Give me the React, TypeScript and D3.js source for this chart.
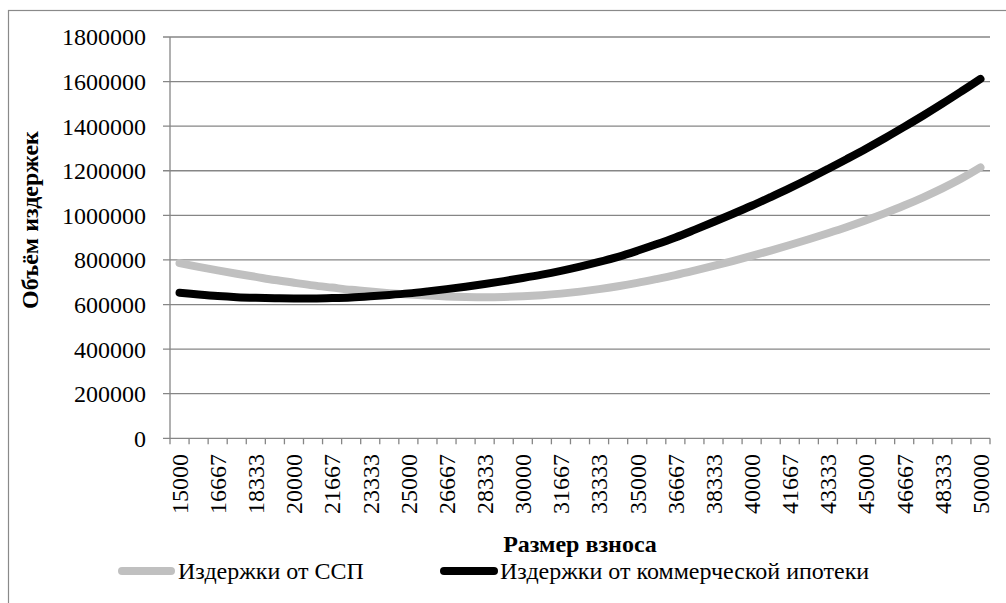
import React from "react";
import * as d3 from "d3";

const categories: string[] = [
  "15000", "15833", "16667", "17500", "18333", "19167", "20000", "20833", "21667", "22500",
  "23333", "24167", "25000", "25833", "26667", "27500", "28333", "29167", "30000", "30833",
  "31667", "32500", "33333", "34167", "35000", "35833", "36667", "37500", "38333", "39167",
  "40000", "40833", "41667", "42500", "43333", "44167", "45000", "45833", "46667", "47500",
  "48333", "49167", "50000",
];

// Издержки от ССП
const sspValues: number[] = [
  786000, 769000, 753000, 738000, 724000, 710000, 698000, 686000, 676000, 666000,
  658000, 651000, 645000, 640000, 636000, 634000, 633000, 634000, 637000, 642000,
  649000, 658000, 669000, 682000, 697000, 714000, 732000, 752000, 773000, 795000,
  818000, 842000, 867000, 893000, 920000, 948000, 978000, 1010000, 1044000, 1081000,
  1121000, 1165000, 1215000,
];

// Издержки от коммерческой ипотеки
const mortgageValues: number[] = [
  653000, 645000, 638000, 633000, 630000, 628000, 627000, 627000, 629000, 632000,
  637000, 643000, 650000, 659000, 669000, 680000, 692000, 705000, 719000, 734000,
  751000, 770000, 791000, 814000, 841000, 870000, 901000, 935000, 970000, 1006000,
  1043000, 1082000, 1122000, 1164000, 1208000, 1253000, 1299000, 1347000, 1397000, 1448000,
  1501000, 1556000, 1612000,
];

const yTicks: number[] = [0, 200000, 400000, 600000, 800000, 1000000, 1200000, 1400000, 1600000, 1800000];

const seriesNames: string[] = ["Издержки от ССП", "Издержки от коммерческой ипотеки"];
const seriesColors: string[] = ["#c0c0c0", "#000000"];

function T(props: any) {
  const { bold, children, ...rest } = props;
  return (
    <text
      {...rest}
      fontFamily="Liberation Serif"
      fontSize={24}
      fontWeight={bold ? "bold" : "normal"}
      fill="#000"
      style={{ fontFamily: '"Liberation Serif"', fontSize: "24px", fontWeight: bold ? "bold" : "normal" }}
    >
      {String(children)}
    </text>
  );
}

export default function App() {
  const W = 1006;
  const H = 603;
  const left = 170;
  const right = 990;
  const top = 37;
  const bottom = 438.3;

  const x = d3.scaleBand<string>().domain(categories).range([left, right]).padding(0);
  const y = d3.scaleLinear().domain([0, 1800000]).range([bottom, top]);
  const cx = (c: string) => (x(c) as number) + x.bandwidth() / 2;

  const line = d3
    .line<number>()
    .x((_, i) => cx(categories[i]))
    .y((d) => y(d))
    .curve(d3.curveCatmullRom.alpha(0.5));

  const series = [sspValues, mortgageValues];
  const tickBounds = d3.range(categories.length + 1).map((i) => left + i * x.bandwidth());

  return (
    <svg width={W} height={H} style={{ position: "absolute", left: 0, top: 0 }}>
      <rect x={0} y={0} width={W} height={H} fill="#fff" />
      <rect x={8.5} y={10.5} width={1200} height={800} fill="none" stroke="#8a8a8a" strokeWidth={1.2} />

      {yTicks.map((t) => (
        <g key={t}>
          <line x1={163} x2={right} y1={y(t)} y2={y(t)} stroke="#868686" strokeWidth={1.3} />
          <T x={146} y={y(t)} dy="0.35em" textAnchor="end">
            {t}
          </T>
        </g>
      ))}

      <line x1={left} x2={left} y1={top} y2={bottom} stroke="#868686" strokeWidth={1.3} />

      {tickBounds.map((tx, i) => (
        <line key={i} x1={tx} x2={tx} y1={bottom} y2={bottom + 6} stroke="#868686" strokeWidth={1.3} />
      ))}

      {categories.map((c, i) =>
        i % 2 === 0 ? (
          <T key={c} transform={`translate(${cx(c)},${454}) rotate(-90)`} dy="0.35em" textAnchor="end">
            {c}
          </T>
        ) : null
      )}

      {series.map((s, k) => (
        <path
          key={k}
          d={line(s) || ""}
          fill="none"
          stroke={seriesColors[k]}
          strokeWidth={8}
          strokeLinecap="round"
          strokeLinejoin="round"
        />
      ))}

      <T bold transform={`translate(38,220) rotate(-90)`} textAnchor="middle">
        Объём издержек
      </T>
      <T bold x={(left + right) / 2} y={552} textAnchor="middle">
        Размер взноса
      </T>

      <line x1={122} x2={171} y1={571} y2={571} stroke={seriesColors[0]} strokeWidth={8} strokeLinecap="round" />
      <T x={178} y={579}>
        {seriesNames[0]}
      </T>
      <line x1={444} x2={494} y1={571} y2={571} stroke={seriesColors[1]} strokeWidth={8} strokeLinecap="round" />
      <T x={500} y={579}>
        {seriesNames[1]}
      </T>
    </svg>
  );
}
